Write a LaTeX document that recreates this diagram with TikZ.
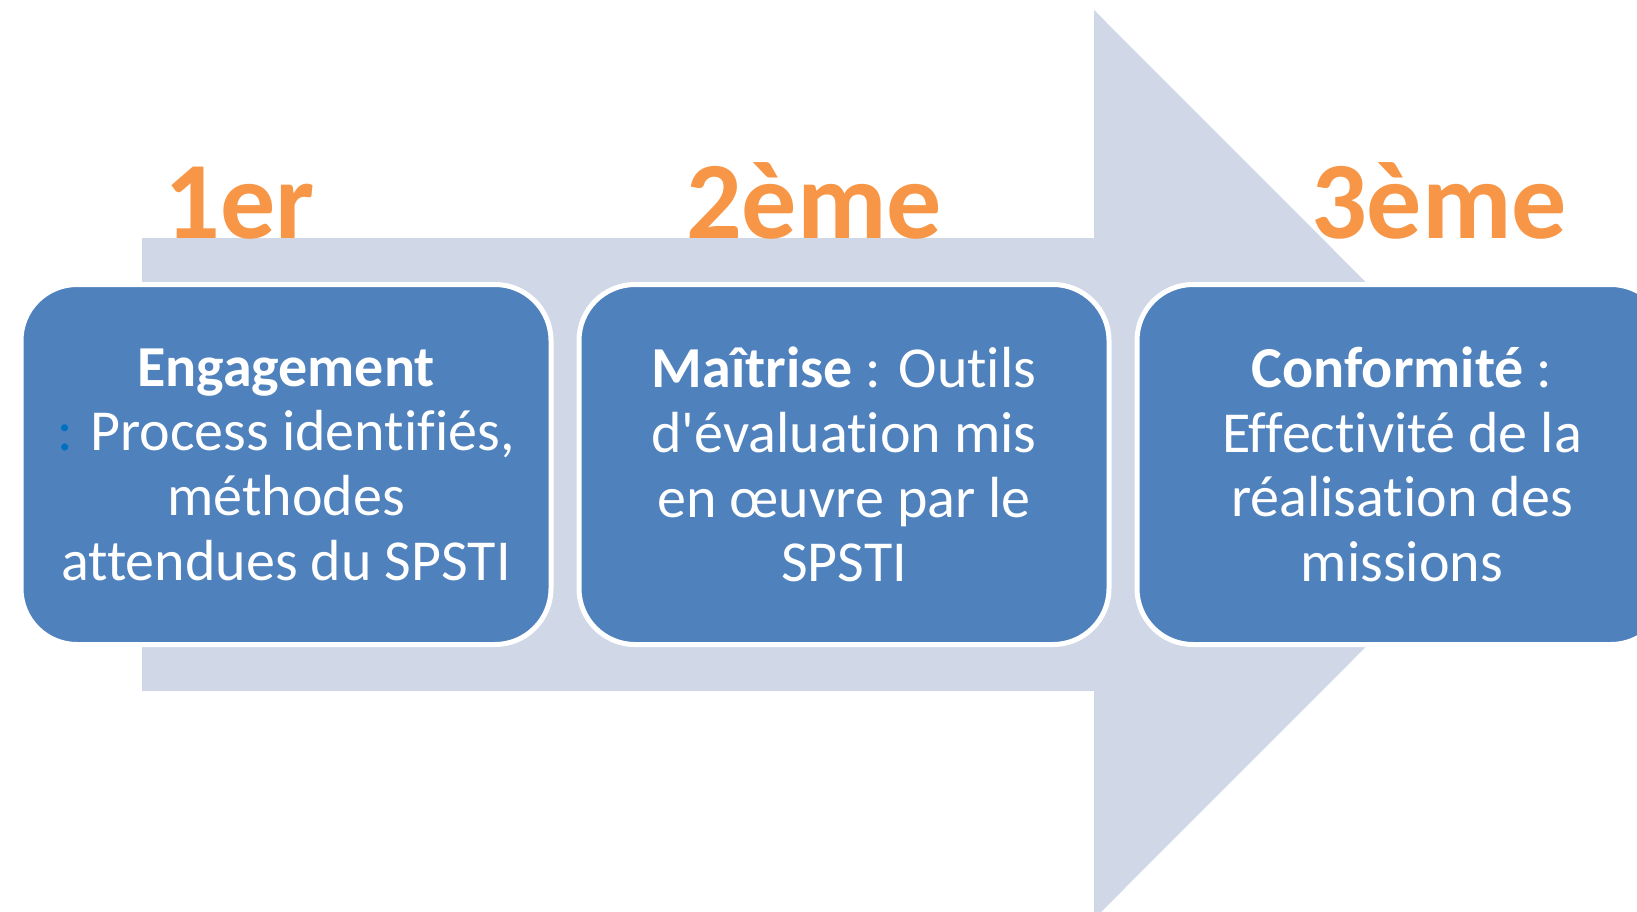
\documentclass[tikz,border=0pt]{standalone}
\usepackage{fontspec}
\setmainfont{Carlito}[Ligatures={NoCommon,TeXOff}]
\usetikzlibrary{positioning}
\definecolor{arrowgrey}{HTML}{D0D8E8}
\definecolor{stageblue}{HTML}{4F81BD}
\definecolor{rankorange}{HTML}{F79646}
\definecolor{colonblue}{HTML}{0070C0}

\begin{document}
\begin{tikzpicture}[
                x=1pt, y=-1pt,
                node distance=23pt,
                stage/.style={rounded corners=56pt,draw=white,line width=5pt,fill=stageblue,text=white,
                    minimum width=530pt,minimum height=360pt,inner sep=0pt,align=center,
                    font=\fontsize{58}{64.7}\selectfont},
                rank/.style={anchor=base,inner sep=0pt,text=rankorange,font=\fontsize{110}{110}\selectfont\bfseries}
            ]
                \useasboundingbox (0,0) rectangle (1637,911);
                \clip (0,0) rectangle (1637,911);
                \fill[arrowgrey] (142,238) -- (1094,238) -- (1094,10) -- (1548,464.5)
                    -- (1094,919) -- (1094,691) -- (142,691) -- cycle;
                \foreach \t/\x [count=\i] in {1er/240, 2ème/814, 3ème/1439}
                    {
                    \node[rank] (r\i) at (\x,238) {\t};
                }
                \node[stage] (s1) at (286,464.5) {\textbf{Engagement}\\{\color{colonblue}:} Process identifiés,\\méthodes\\attendues du SPSTI};
                \node[stage, right=of s1] (s2) {\textbf{Maîtrise} : Outils\\d'évaluation mis\\en œuvre par le\\SPSTI};
                \node[stage, right=of s2] (s3) {\textbf{Conformité} :\\Effectivité de la\\réalisation des\\missions};
            \end{tikzpicture}
\end{document}
